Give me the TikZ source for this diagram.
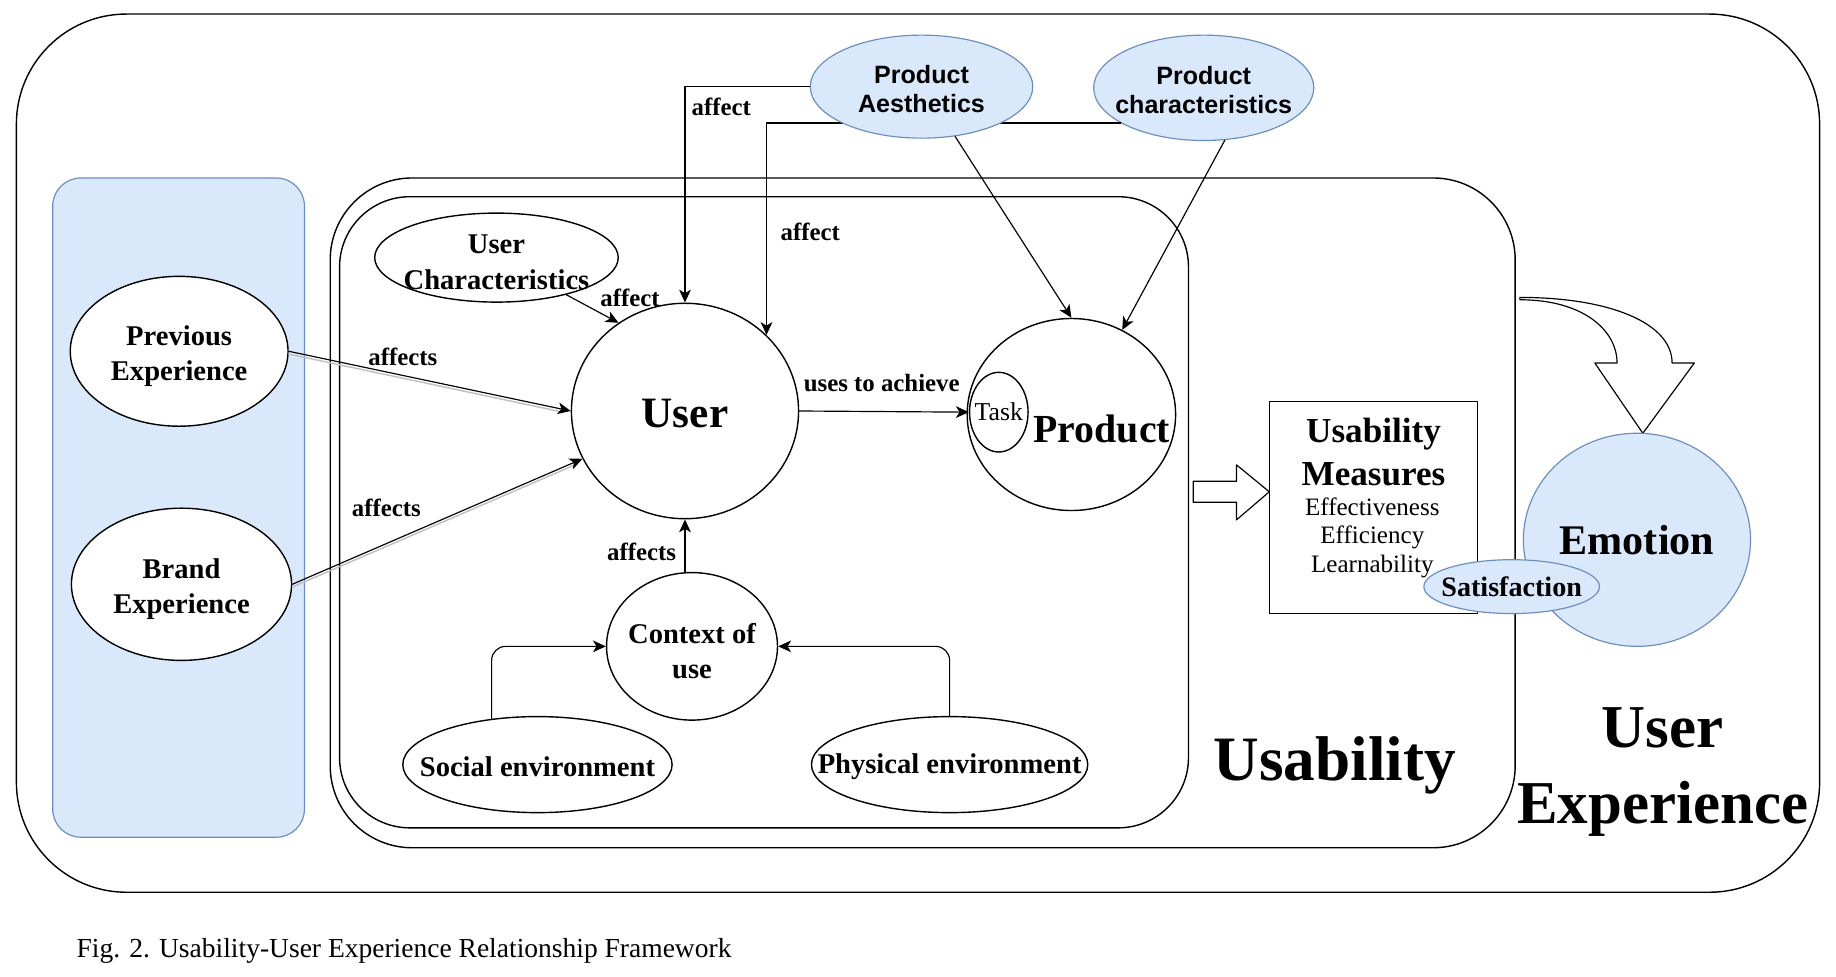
\documentclass[tikz,border=0pt]{standalone}
\usepackage{fontspec}
\setmainfont{Liberation Serif}
\setsansfont{Liberation Sans}
\usetikzlibrary{arrows.meta,shapes.geometric}
\definecolor{bluefill}{HTML}{DAE8FC}
\definecolor{bluedraw}{HTML}{6C8EBF}

\begin{document}
\begin{tikzpicture}[x=0.5pt,y=-0.5pt,line cap=round,line join=round,
  ell/.style={ellipse,draw,line width=0.6pt,fill=white,inner sep=0pt},
  blueell/.style={ellipse,draw=bluedraw,line width=0.5pt,fill=bluefill,inner sep=0pt},
  lbl/.style={align=center,yshift=-2pt,font=\fontsize{12.2}{15}\selectfont\bfseries},
  sanslbl/.style={align=center,yshift=-1pt,font=\fontsize{10.7}{12.5}\selectfont\sffamily\bfseries},
  sml/.style={font=\fontsize{10.6}{12}\selectfont\bfseries},
  link/.style={line width=0.5pt,-{Stealth[length=5.5pt,width=5pt,inset=1.5pt]}},
  ghost/.style={line width=0.6pt,black!25,shorten >=4pt},
  frame/.style={draw,line width=0.6pt}]
  \useasboundingbox (0,0) rectangle (1568,834);
  \fill[white] (0,0) rectangle (1568,834);

  \draw[frame,rounded corners=47pt] (14,12) rectangle (1554,762);
  \draw[draw=bluedraw,fill=bluefill,line width=0.5pt,rounded corners=12pt] (45,152) rectangle (260,715);
  \draw[frame,rounded corners=35pt] (282,152) rectangle (1294,724);
  \draw[frame,rounded corners=30pt] (290,168) rectangle (1015,707);

  \node[ell,minimum width=93pt,minimum height=64pt,label={[lbl]center:{Previous\\Experience}}] (prev) at (153,300) {};
  \node[ell,minimum width=94pt,minimum height=65pt,label={[lbl]center:{Brand\\Experience}}] (brand) at (155,499) {};
  \node[ell,minimum width=104pt,minimum height=38pt,label={[lbl]center:{User\\Characteristics}}] (uchar) at (424,220) {};
  \node[ell,minimum width=97pt,minimum height=92pt,label={[font=\fontsize{18.5}{20}\selectfont\bfseries,yshift=-1pt]center:User}] (user) at (585,351) {};
  \node[ell,minimum width=89pt,minimum height=82pt,label={[font=\fontsize{17}{19}\selectfont\bfseries,xshift=13pt,yshift=-6pt]center:Product}] (product) at (915,354) {};
  \node[ell,minimum width=25pt,minimum height=34pt,fill=none,label={[font=\fontsize{11}{12}\selectfont]center:Task}] (task) at (853,352) {};
  \node[ell,minimum width=73pt,minimum height=63pt,label={[lbl]center:{Context of\\use}}] (context) at (591,552) {};
  \node[ell,minimum width=115pt,minimum height=41pt,label={[lbl,yshift=1pt]center:Social environment}] (social) at (459,653) {};
  \node[ell,minimum width=118pt,minimum height=41pt,label={[lbl,yshift=1pt]center:Physical environment}] (phys) at (811,653) {};
  \node[blueell,minimum width=94pt,minimum height=45pt,label={[sanslbl]center:{Product\\characteristics}}] (pchar) at (1028,75) {};

  \draw[link] (pchar.203) -| (user.43);
  \node[blueell,minimum width=95pt,minimum height=44pt,label={[sanslbl]center:{Product\\Aesthetics}}] (aesth) at (787,74) {};

  \draw[link] (aesth.west) -| (user.north);
  \node[sml] (affaesth) at (616,91) {affect};
  \node[sml] (affpchar) at (692,198) {affect};
  \draw[link] (aesth.-56) -- (product.north);
  \draw[link] (pchar.-68) -- (product.59);

  \draw[ghost] ([yshift=-1.2pt]prev.east) -- ([yshift=-1.2pt]user.west);
  \draw[link] (prev.east) -- (user.west);
  \node[sml] (affprev) at (344,305) {affects};
  \draw[ghost] ([yshift=-1.2pt]brand.east) -- ([yshift=-1.2pt]user.205);
  \draw[link] (brand.east) -- (user.205);
  \node[sml] (affbrand) at (330,434) {affects};

  \draw[link] (uchar.-28) -- (user.127);
  \node[sml] (affuchar) at (538,254) {affect};
  \draw[link] (user.east) -- (task.west);
  \node[sml] (uses) at (753,327) {uses to achieve};
  \draw[link] (context.north -| user) -- (user.south);
  \node[sml] (affctx) at (548,471) {affects};
  \draw[link,rounded corners=6pt] (social.135) |- (context.west);
  \draw[link,rounded corners=6pt] (phys.north) |- (context.east);

  \node[draw,line width=0.6pt,fill=white,minimum width=89pt,minimum height=90.5pt] (meas) at (1173,433.5) {};
  \node[align=center,font=\fontsize{15}{18.5}\selectfont\bfseries] (meastitle) at (1173,386) {Usability\\Measures};
  \node[align=center,font=\fontsize{10.7}{12.2}\selectfont] (measitems) at (1172,459) {Effectiveness\\Efficiency\\Learnability};
  \draw[line width=0.5pt,fill=white] (1019,411) -- (1056,411) -- (1056,397) -- (1084,420) -- (1056,444) -- (1056,429) -- (1019,429) -- cycle;

  \draw[line width=0.5pt,fill=white] (1298,254) .. controls (1375,254) and (1428,276) .. (1428,310) -- (1447,310) -- (1403,370) -- (1362,310) -- (1381,310) .. controls (1381,282) and (1352,256) .. (1298,256) -- cycle;
  \node[blueell,minimum width=97pt,minimum height=91pt,label={[font=\fontsize{18}{20}\selectfont\bfseries]center:Emotion}] (emotion) at (1398,461) {};
  \node[blueell,minimum width=75pt,minimum height=23pt,label={[font=\fontsize{12}{14}\selectfont\bfseries]center:Satisfaction}] (satis) at (1291,501) {};

  \node[font=\fontsize{27}{30}\selectfont\bfseries] (usab) at (1140,654) {Usability};
  \node[align=center,font=\fontsize{26}{32.5}\selectfont\bfseries] (ux) at (1420,659) {User\\Experience};
  \node[anchor=west,inner sep=0pt,font=\fontsize{11.75}{14}\selectfont] (caption) at (65,812) {Fig. 2. Usability-User Experience Relationship Framework};
\end{tikzpicture}
\end{document}
